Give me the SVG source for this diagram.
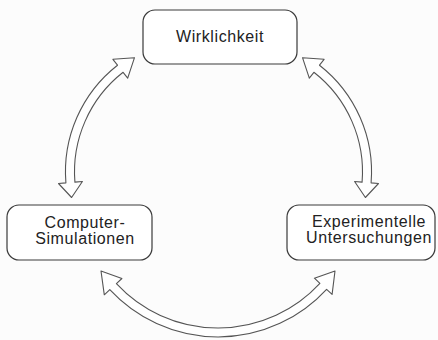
<svg xmlns="http://www.w3.org/2000/svg" width="438" height="340" viewBox="0 0 438 340">
  <style>
    .box { fill: #ffffff; stroke: #3a3a3a; stroke-width: 1.2; }
    .lbl { font-family: "Liberation Sans", Arial, sans-serif; font-size: 16px; letter-spacing: 0.6px; fill: #222222; text-anchor: middle; }
    .arrow { fill: #ffffff; stroke: #555555; stroke-width: 1.1; stroke-linejoin: round; }
  </style>
  <rect x="0" y="0" width="438" height="340" fill="#fcfcfc"/>
  <g id="connectors">
    <path id="arrow-left" class="arrow" d="M134.5,57.7 L112.9,59.3 L117.5,65.2 A135.5,135.5 0 0 0 65.9,182.9 L58.5,183.5 L71.6,197.5 L82.4,181.5 L74.9,182.1 A126.5,126.5 0 0 1 123.1,72.3 L127.7,78.2 Z"/>
    <path id="arrow-right" class="arrow" d="M302.5,57.7 L324.1,59.3 L319.5,65.2 A135.5,135.5 0 0 1 371.1,182.9 L378.5,183.5 L365.4,197.5 L354.6,181.5 L362.1,182.1 A126.5,126.5 0 0 0 313.9,72.3 L309.3,78.2 Z"/>
    <path id="arrow-bottom" class="arrow" d="M101,271 L104.3,294.8 L109.8,289.7 A147.5,147.5 0 0 0 326.6,289.3 L332.1,294.4 L335,271 L314.4,278.2 L319.9,283.3 A138.5,138.5 0 0 1 116.4,283.6 L121.9,278.5 Z"/>
  </g>
  <g id="node-wirklichkeit">
    <rect class="box" x="143" y="10" width="154" height="54" rx="12"/>
    <text class="lbl" x="220" y="42">Wirklichkeit</text>
  </g>
  <g id="node-simulationen">
    <rect class="box" x="7" y="205" width="145" height="55" rx="12"/>
    <text class="lbl" x="85" y="228">Computer-</text>
    <text class="lbl" x="85" y="244">Simulationen</text>
  </g>
  <g id="node-experimente">
    <rect class="box" x="287" y="205" width="148" height="55" rx="12"/>
    <text class="lbl" x="369" y="227">Experimentelle</text>
    <text class="lbl" x="369" y="243">Untersuchungen</text>
  </g>
</svg>
